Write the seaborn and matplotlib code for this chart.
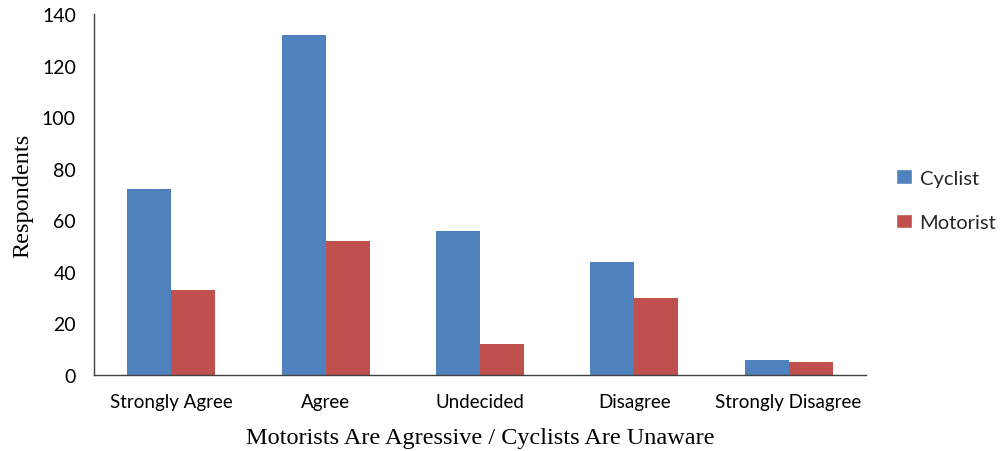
import matplotlib
matplotlib.use("Agg")
import matplotlib.pyplot as plt
import seaborn as sns
import pandas as pd
import numpy as np
from matplotlib.patches import Patch

categories = ["Strongly Agree", "Agree", "Undecided", "Disagree", "Strongly Disagree"]
cyclist = [72, 132, 56, 44, 6]
motorist = [33, 52, 12, 30, 5]
groups = ["Cyclist", "Motorist"]
colors = ["#4F81BD", "#C0504D"]

df = pd.DataFrame({
    "category": categories * 2,
    "group": ["Cyclist"] * len(categories) + ["Motorist"] * len(categories),
    "value": cyclist + motorist,
})

sns.set_style("white")
fig = plt.figure(figsize=(10.05, 4.52), dpi=100)
ax = fig.add_axes([0.0935, 0.168, 0.768, 0.799])

sns.barplot(data=df, x="category", y="value", hue="group", order=categories,
            hue_order=groups, palette=colors, width=0.57, saturation=1,
            edgecolor="none", ax=ax, legend=False)

ax.set_xlim(-0.5, len(categories) - 0.5)
ax.set_ylim(0, 140)
ax.set_yticks(range(0, 141, 20))
ax.set_xticks(np.arange(-0.5, len(categories), 1.0), minor=True)

for s in ["top", "right"]:
    ax.spines[s].set_visible(False)
for s in ["left", "bottom"]:
    ax.spines[s].set_color("#404040")
    ax.spines[s].set_linewidth(1.0)

ax.tick_params(axis="y", direction="in", length=6, color="#404040", labelsize=14,
               pad=13, labelcolor="black")
ax.tick_params(axis="x", which="major", length=0, labelsize=13.5, pad=13, labelcolor="black")
ax.tick_params(axis="x", which="minor", direction="in", length=6, color="#404040")
for lab in ax.get_xticklabels() + ax.get_yticklabels():
    lab.set_family("Lato")

ax.set_xlabel("Motorists Are Agressive / Cyclists Are Unaware", family="Liberation Serif",
              fontsize=17.5, labelpad=12, color="black")
ax.set_ylabel("Respondents", family="Liberation Serif", fontsize=17.5, labelpad=6,
              color="black")

handles = [Patch(facecolor=c, label=g) for g, c in zip(groups, colors)]
fig.legend(handles=handles, loc="center left", bbox_to_anchor=(0.892, 0.555),
           frameon=False, prop={"family": "Lato", "size": 14.5},
           borderpad=0, borderaxespad=0,
           handlelength=0.75, handleheight=0.75, handletextpad=0.4, labelspacing=1.35)

fig.savefig("out.png", dpi=100)
